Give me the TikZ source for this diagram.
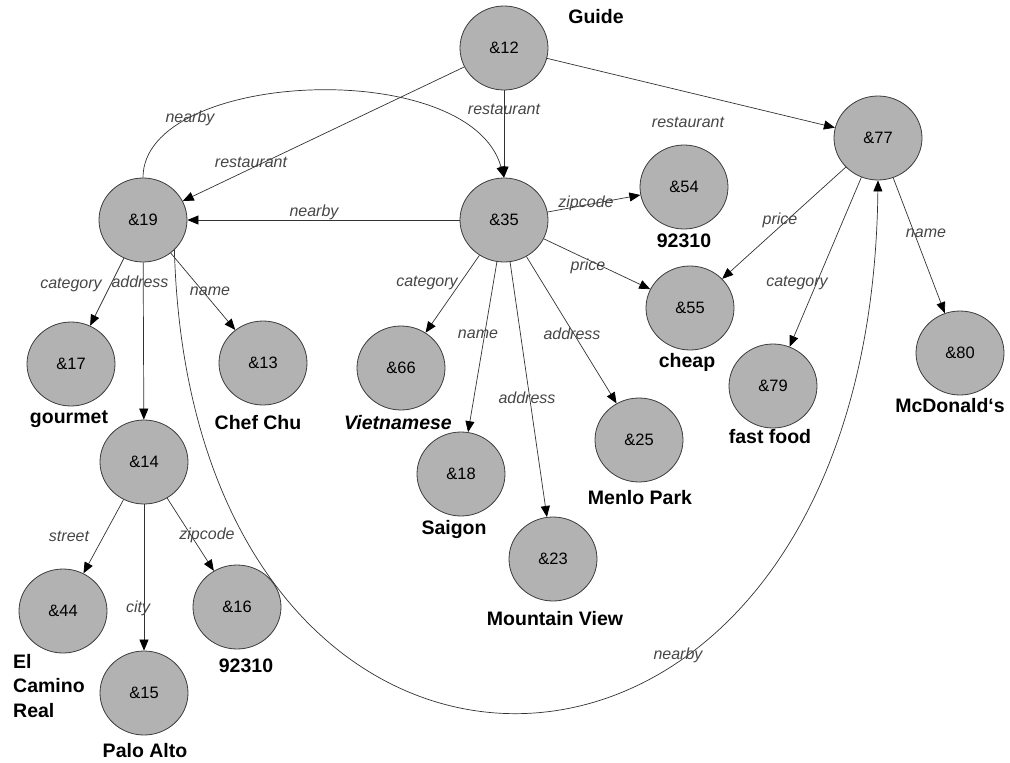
\documentclass[tikz,border=0pt]{standalone}
\usepackage{fontspec}
\setmainfont{Liberation Sans}
\usetikzlibrary{arrows.meta,shapes.geometric}
\definecolor{objfill}{RGB}{178,178,178}
\definecolor{objline}{RGB}{60,60,60}
\definecolor{edgeline}{RGB}{50,50,50}
\definecolor{relgray}{RGB}{70,70,70}

\begin{document}
\begin{tikzpicture}[x=1pt,y=-1pt,
  obj/.style={ellipse, draw=objline, fill=objfill, line width=0.8pt,
    minimum width=88pt, minimum height=84pt, inner sep=0pt,
    font=\fontsize{16.5}{18}\selectfont},
  val/.style={anchor=base, inner sep=0pt, font=\fontsize{19.5}{22}\selectfont\bfseries},
  rellbl/.style={inner sep=0pt, text=relgray, font=\fontsize{16}{18}\selectfont\itshape},
  rel/.style={draw=edgeline, line width=0.7pt,
    -{Triangle[length=11pt,width=9pt,color=black]}}
]
\useasboundingbox (0,0) rectangle (1010,763);

% objects
\node[obj] (n12) at (504,48)  {\&12};
\node[obj] (n19) at (143,220) {\&19};
\node[obj] (n35) at (504,220) {\&35};
\node[obj] (n77) at (878,138) {\&77};
\node[obj] (n54) at (684,187) {\&54};
\node[obj] (n55) at (690,308) {\&55};
\node[obj] (n80) at (960,353) {\&80};
\node[obj] (n79) at (773,386) {\&79};
\node[obj] (n66) at (401,368) {\&66};
\node[obj] (n18) at (461,474) {\&18};
\node[obj] (n23) at (553,559) {\&23};
\node[obj] (n25) at (639,440) {\&25};
\node[obj] (n17) at (71,364)  {\&17};
\node[obj] (n13) at (263,363) {\&13};
\node[obj] (n14) at (144,462) {\&14};
\node[obj] (n44) at (63,611)  {\&44};
\node[obj] (n16) at (237,607) {\&16};
\node[obj] (n15) at (144,693) {\&15};

% atomic values
\node[val] (vguide) at (596,23)  {Guide};
\node[val] (v54)    at (684,247) {92310};
\node[val] (v55)    at (687,367) {cheap};
\node[val] (v80)    at (950,412) {McDonald‘s};
\node[val] (v79)    at (770,443) {fast food};
\node[val] (v25)    at (640,504) {Menlo Park};
\node[val] (v18)    at (454,534) {Saigon};
\node[val] (v23)    at (555,625) {Mountain View};
\node[val] (v66)    at (398,429) {\itshape Vietnamese};
\node[val] (v17)    at (69,423)  {gourmet};
\node[val] (v13)    at (258,429) {Chef Chu};
\node[val] (v16)    at (246,672) {92310};
\node[val] (v15)    at (145,757) {Palo Alto};
\node[val, anchor=base west, align=left] (v44) at (13,717)
  {El\\[2.5pt]Camino\\[2.5pt]Real};

% edges
\draw[rel] (n12) -- (n19);
\draw[rel] (n12) -- (n35);
\draw[rel] (n12) -- (n77);
\draw[rel] (n19.north) .. controls (143,70) and (470,55) .. (n35.north);
\draw[rel] (n35) -- (n19);
\draw[rel] (n35) -- (n54);
\draw[rel] (n35) -- (n55);
\draw[rel] (n35) -- (n66);
\draw[rel] (n35) -- (n18);
\draw[rel] (n35) -- (n23);
\draw[rel] (n35) -- (n25);
\draw[rel] (n77) -- (n55);
\draw[rel] (n77) -- (n79);
\draw[rel] (n77) -- (n80);
\draw[rel] (n19) -- (n17);
\draw[rel] (n19) -- (n14);
\draw[rel] (n19) -- (n13);
\draw[rel] (n14) -- (n44);
\draw[rel] (n14) -- (n15);
\draw[rel] (n14) -- (n16);
\draw[rel] (n19.south east) .. controls (192,885) and (870,870) .. (n77.south);

% edge labels
\node[rellbl] (l1)  at (251,162) {restaurant};
\node[rellbl] (l2)  at (504,109) {restaurant};
\node[rellbl] (l3)  at (688,122) {restaurant};
\node[rellbl] (l4)  at (190,118) {nearby};
\node[rellbl] (l5)  at (314,212) {nearby};
\node[rellbl] (l6)  at (586,203) {zipcode};
\node[rellbl] (l7)  at (588,266) {price};
\node[rellbl] (l8)  at (780,220) {price};
\node[rellbl] (l9)  at (797,283) {category};
\node[rellbl] (l10) at (926,233) {name};
\node[rellbl] (l11) at (427,283) {category};
\node[rellbl] (l12) at (478,334) {name};
\node[rellbl] (l13) at (572,334) {address};
\node[rellbl] (l14) at (527,398) {address};
\node[rellbl] (l15) at (71,285)  {category};
\node[rellbl] (l16) at (140,282) {address};
\node[rellbl] (l17) at (210,291) {name};
\node[rellbl] (l18) at (69,536)  {street};
\node[rellbl] (l19) at (207,535) {zipcode};
\node[rellbl] (l20) at (138,608) {city};
\node[rellbl] (l21) at (678,655) {nearby};
\end{tikzpicture}
\end{document}
